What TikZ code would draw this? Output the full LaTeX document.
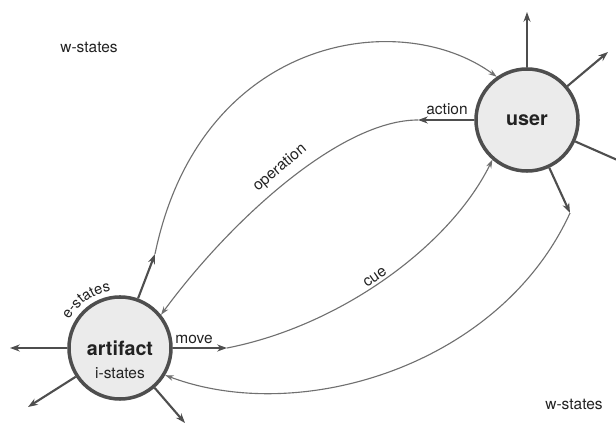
\documentclass[tikz,border=0pt]{standalone}
\usepackage{fontspec}
\setmainfont{TeX Gyre Heros}
\usetikzlibrary{arrows.meta,positioning,decorations.text}

\definecolor{ringgray}{HTML}{4E4E4E}
\definecolor{fillgray}{HTML}{EBEBEB}
\definecolor{linegray}{HTML}{707070}
\definecolor{textgray}{HTML}{222222}

\begin{document}
\begin{tikzpicture}[x=0.025cm, y=0.025cm,
    state/.style={circle, draw=ringgray, fill=fillgray, line width=2.5pt,
        minimum size=2.55cm, inner sep=0pt, text=textgray,
        font=\fontsize{14}{16}\selectfont\bfseries},
    spoke/.style={draw=ringgray, line width=1.5pt, -{Stealth[length=7pt,width=5pt]}},
    flow/.style={draw=linegray, line width=0.8pt, -{Stealth[length=6pt,width=4pt]}},
    lbl/.style={font=\fontsize{11}{13}\selectfont, text=textgray, inner sep=1pt}]
    \clip (0,0) rectangle (616,426);

    % Artifact
    \node[state] (artifact) at (120,78) {artifact};
    \node[lbl] (istates) at (120,53) {i-states};
    \path[decorate, decoration={text along path, text align=center,
        text={|\fontsize{10.5}{12}\selectfont\color{textgray}|e-states}}]
        ([shift={(155:58)}]artifact.center) arc[start angle=155, end angle=95, radius=58];

    % User
    \node[state] (user) at (527,306) {user};

    % Spoke ends
    \coordinate (art-w) at (10,78);
    \coordinate (art-ne) at (155,172);
    \coordinate (art-sw) at (28,19);
    \coordinate (art-se) at (185,3);
    \coordinate (art-move) at (227,78);
    \coordinate (user-n) at (527,414);
    \coordinate (user-ne) at (608,374);
    \coordinate (user-e) at (640,256);
    \coordinate (user-se) at (570,213);
    \coordinate (user-act) at (418,306);

    % Artifact spokes
    \draw[spoke] (artifact.180) -- (art-w);
    \draw[spoke] (artifact.70) -- (art-ne);
    \draw[spoke] (artifact.213) -- (art-sw);
    \draw[spoke] (artifact.-49) -- (art-se);
    \draw[spoke] (artifact.0) -- (art-move);

    % User spokes
    \draw[spoke] (user.90) -- (user-n);
    \draw[spoke] (user.40) -- (user-ne);
    \draw[spoke] (user.-24) -- (user-e);
    \draw[spoke] (user.-65) -- (user-se);
    \draw[spoke] (user.180) -- (user-act);

    % Flows
    \draw[flow] (art-ne) .. controls (200,390) and (400,420) .. (user.125);
    \draw[flow] (user-act) .. controls (340,306) and (230,205) .. (artifact.39);
    \draw[flow] (art-move) .. controls (340,100) and (450,180) .. (user.229);
    \draw[flow] (user-se) .. controls (500,60) and (300,0) .. (artifact.-31);

    % Labels
    \node[lbl] (wstates-top) at (89,379) {w-states};
    \node[lbl] (wstates-bot) at (574,22) {w-states};
    \node[lbl] (action) at (447,317) {action};
    \node[lbl] (move) at (194,87) {move};
    \node[lbl, rotate=40] (operation) at (280,258) {operation};
    \node[lbl, rotate=35] (cue) at (375,149) {cue};
\end{tikzpicture}
\end{document}
